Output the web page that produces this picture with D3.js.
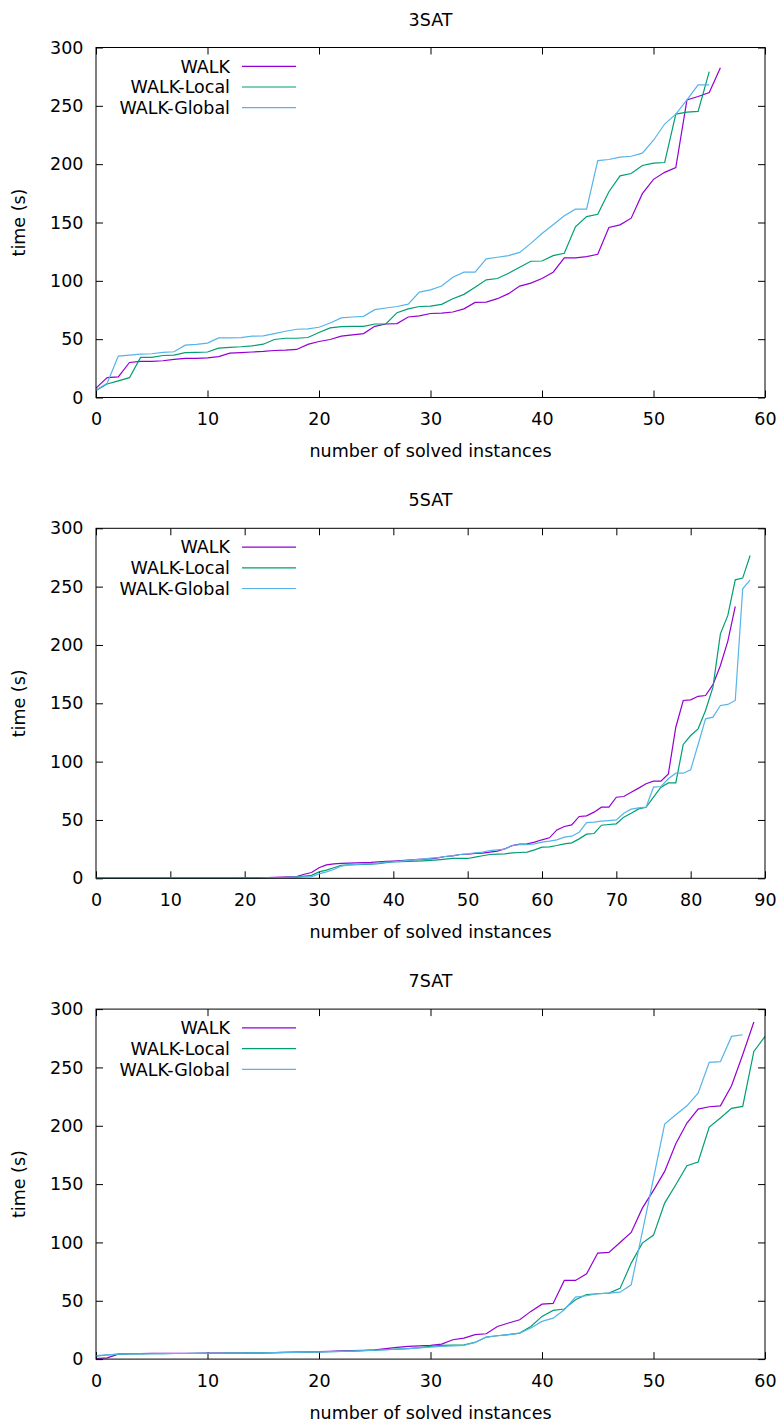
<!DOCTYPE html>
<html>
<head>
<meta charset="utf-8">
<script src="https://cdn.jsdelivr.net/npm/d3@7"></script>
<style>
    body { margin: 0; background: #fff; }
    text { font-family: "DejaVu Sans", sans-serif; fill: #000; }
</style>
</head>
<body>
<div id="chart"></div>
<script>
// series names and colours (gnuplot default palette)
const seriesNames = ["WALK", "WALK-Local", "WALK-Global"];
const seriesColors = ["#9400d3", "#009e73", "#56b4e9"];

// 3SAT: time (s) of the n-th solved instance, n = 0, 1, 2, ...
const sat3Walk = [8, 17, 17.6, 30, 31, 31, 31.5, 32.7, 33.5, 33.5, 34, 35, 38, 38.4, 39, 39.5, 40.3, 40.6, 41.2, 45.5,
    48, 49.7, 52.6, 53.7, 54.8, 61, 63, 63.4, 69, 70, 72, 72.4, 73.3, 76, 81.5, 81.8, 84.7, 89, 95.5, 98,
    102, 107.4, 119.6, 119.6, 120.7, 122.7, 145.7, 148, 153.7, 174.7, 187, 193, 197, 255, 258, 261.4, 282.7];
const sat3Local = [6, 11.6, 14.2, 17, 34.4, 34.4, 36, 36.4, 38.4, 38.6, 39, 42.3, 43, 43.5, 44.3, 45.7, 49.7, 50.8, 50.8, 51.4,
    55.7, 59.7, 60.8, 61, 61, 63, 63, 72.7, 75.9, 78, 78.4, 79.8, 84.7, 88.4, 94.6, 100.9, 102, 106.5, 111.6, 116.8,
    117, 121.6, 123.6, 146.3, 155.1, 157.1, 176.4, 190, 192, 198.9, 200.9, 201.4, 242.9, 244.6, 245.2, 279.3];
const sat3Global = [6.5, 12.2, 35.5, 36.4, 37.2, 37.5, 38.6, 39.2, 44.9, 45.5, 46.6, 51.1, 51.1, 51.4, 52.6, 52.8, 54.8, 56.8, 58.5, 58.8,
    60.2, 63.9, 68.2, 69, 69.6, 75.3, 76.7, 78, 80, 90.3, 92.3, 95.5, 103.1, 107.4, 107.4, 118.8, 120.2, 121.6, 124.4, 132.1,
    140.6, 148, 155.7, 161.4, 161.4, 203.1, 204, 206, 206.8, 209.4, 220.5, 234.4, 242.9, 255.1, 267.9, 267.9];

// 5SAT
const sat5Walk = [0.1, 0.1, 0.1, 0.1, 0.1, 0.1, 0.1, 0.1, 0.1, 0.1, 0.1, 0.1, 0.1, 0.1, 0.1, 0.1, 0.1, 0.1, 0.1, 0.2,
    0.3, 0.5, 0.6, 0.7, 0.8, 1, 1.2, 1.5, 3.5, 5, 9, 11.5, 12.4, 12.8, 13, 13.2, 13.4, 13.6, 14, 14.5,
    14.8, 15.2, 15.6, 16, 16.4, 16.7, 17.5, 18.7, 19.3, 20.4, 20.7, 21.3, 21.5, 22.4, 23.3, 25.3, 28, 29.3, 29.5, 31,
    33, 34.7, 41.5, 44.4, 45.8, 53, 53.5, 56.7, 61, 61, 69.5, 70.1, 73.8, 77.3, 81, 83.3, 83.3, 89.5, 129.5, 152.4,
    153, 156, 156.7, 166, 182.4, 203.3, 233];
const sat5Local = [0.1, 0.1, 0.1, 0.1, 0.1, 0.1, 0.1, 0.1, 0.1, 0.1, 0.1, 0.1, 0.1, 0.1, 0.1, 0.1, 0.1, 0.1, 0.1, 0.1,
    0.2, 0.3, 0.4, 0.5, 0.6, 0.7, 0.8, 1, 1.8, 2.5, 5.5, 7, 9, 11, 11.5, 11.8, 12, 12.2, 12.5, 13.5,
    14, 14.2, 14.5, 14.8, 15, 15.3, 15.8, 16.4, 17, 17, 17, 18.1, 19.3, 20.4, 20.7, 21, 21.8, 22.1, 22.4, 24.4,
    26.7, 27, 28.1, 29.5, 30.4, 33.8, 37.8, 38.4, 45.5, 46.1, 46.7, 52.4, 55.8, 59.5, 60.9, 69.5, 78.1, 81.8, 81.8, 114.7,
    122.4, 128.1, 143.8, 163.8, 209.5, 225.3, 255.8, 257.3, 276.7];
const sat5Global = [0.1, 0.1, 0.1, 0.1, 0.1, 0.1, 0.1, 0.1, 0.1, 0.1, 0.1, 0.1, 0.1, 0.1, 0.1, 0.1, 0.1, 0.1, 0.1, 0.1,
    0.2, 0.3, 0.4, 0.5, 0.6, 0.7, 0.8, 1, 1.2, 1.5, 3.8, 5.5, 7.5, 10.5, 11.5, 12, 12.3, 12.6, 13, 13.8,
    14.2, 14.8, 15.4, 16, 16.4, 17.3, 17.8, 18.7, 19.5, 20.4, 21, 21.8, 22.4, 23.8, 24.4, 25, 28.1, 28.9, 28.9, 29.5,
    31, 31.8, 33, 35.3, 36.1, 39.5, 47.8, 48.1, 49, 49.5, 50.1, 55.8, 59.3, 60.4, 61, 78.1, 78.7, 85.3, 90.1, 90.1,
    93, 114.7, 136.7, 138.1, 148.1, 149, 152.4, 248.1, 255.8];

// 7SAT
const sat7Walk = [0.5, 1, 4.3, 4.6, 4.8, 4.9, 5, 5, 5, 5, 5.1, 5.1, 5.2, 5.2, 5.3, 5.4, 5.5, 5.7, 5.9, 6.1,
    6.4, 6.7, 7, 7.2, 7.5, 8, 8.9, 10, 10.9, 11.4, 11.7, 12.9, 16.6, 18, 20.9, 21.7, 28, 30.9, 33.7, 40.9,
    47.1, 47.7, 67.4, 67.4, 73.1, 90.9, 91.4, 100, 108.6, 129.4, 144.6, 160.9, 184.6, 202.3, 214.3, 216.3, 217.1, 234.3, 260.9, 288.9];
const sat7Local = [2.5, 3.5, 4.2, 4.4, 4.5, 4.6, 4.7, 4.8, 4.8, 4.9, 5, 5, 5.1, 5.2, 5.3, 5.4, 5.5, 5.7, 5.8, 6,
    6.2, 6.4, 6.7, 6.9, 7.2, 7.6, 8, 8.5, 9, 9.8, 10.9, 11.7, 12, 12.3, 14.3, 18.9, 20, 20.9, 22.3, 28,
    36.6, 41.7, 42.9, 50.9, 55.4, 56, 56.6, 60.6, 82.3, 99.4, 106.3, 133.7, 149.4, 165.7, 168.9, 198.9, 206.6, 214.9, 216.6, 263.7,
    276.6];
const sat7Global = [3, 3.6, 4.3, 4.4, 4.5, 4.6, 4.7, 4.8, 4.8, 4.9, 5, 5, 5.1, 5.2, 5.3, 5.4, 5.5, 5.6, 5.8, 6,
    6.2, 6.4, 6.6, 6.9, 7.2, 7.6, 8, 8.5, 9, 9.6, 10.3, 10.9, 11.4, 11.7, 14.3, 18.9, 20, 20.9, 22.3, 26.6,
    32.3, 35.1, 42.3, 53.1, 54.3, 56, 56.6, 57.4, 63.7, 109, 155, 201.4, 209.4, 217.1, 228, 254.3, 254.9, 276.6, 278];

const panelTitles = ["3SAT", "5SAT", "7SAT"];
const panelXMax = [60, 90, 60];
const yTickValues = [0, 50, 100, 150, 200, 250, 300];
const xLabel = "number of solved instances";
const yLabel = "time (s)";

const panels = [
    [sat3Walk, sat3Local, sat3Global],
    [sat5Walk, sat5Local, sat5Global],
    [sat7Walk, sat7Local, sat7Global]
];

const width = 781, height = 1423;
const plotLeft = 96, plotRight = 765, plotH = 350, firstTop = 47.5, panelStep = 480.8;
const fontSize = 17.5;

const svg = d3.select("#chart")
    .append("svg")
    .attr("width", width)
    .attr("height", height);

panels.forEach((seriesList, p) => {
    const top = firstTop + p * panelStep;
    const g = svg.append("g").attr("transform", `translate(${plotLeft},${top})`);
    const w = plotRight - plotLeft;

    const x = d3.scaleLinear().domain([0, panelXMax[p]]).range([0, w]);
    const y = d3.scaleLinear().domain([0, 300]).range([plotH, 0]);
    const xTicks = d3.range(0, panelXMax[p] + 1, 10);

    // bottom axis with labels, ticks pointing inward
    const xAxis = g.append("g")
        .attr("transform", `translate(0,${plotH})`)
        .call(d3.axisBottom(x).tickValues(xTicks).tickSize(-7).tickPadding(15.5).tickFormat(d3.format("d")));
    // mirrored ticks on top
    const xAxisTop = g.append("g")
        .call(d3.axisTop(x).tickValues(xTicks).tickSize(-7).tickFormat(""));

    const yAxis = g.append("g")
        .call(d3.axisLeft(y).tickValues(yTickValues).tickSize(-7).tickPadding(12.5).tickFormat(d3.format("d")));
    const yAxisRight = g.append("g")
        .attr("transform", `translate(${w},0)`)
        .call(d3.axisRight(y).tickValues(yTickValues).tickSize(-7).tickFormat(""));

    [xAxis, xAxisTop, yAxis, yAxisRight].forEach(a => {
        a.select(".domain").remove();
        a.selectAll("line").attr("stroke", "#000").attr("stroke-width", 1);
        a.selectAll("text")
            .style("font-family", "'DejaVu Sans', sans-serif")
            .style("font-size", fontSize + "px")
            .attr("fill", "#000");
    });

    const line = d3.line()
        .x((d, i) => x(i))
        .y(d => y(d));

    seriesList.forEach((values, s) => {
        g.append("path")
            .datum(values)
            .attr("fill", "none")
            .attr("stroke", seriesColors[s])
            .attr("stroke-width", 1.2)
            .attr("stroke-linejoin", "miter")
            .attr("d", line);
    });

    // border
    g.append("rect")
        .attr("x", 0)
        .attr("y", 0)
        .attr("width", w)
        .attr("height", plotH)
        .attr("fill", "none")
        .attr("stroke", "#000")
        .attr("stroke-width", 1);

    // legend
    const legend = g.append("g");
    seriesNames.forEach((name, s) => {
        const ly = 18.8 + s * 20.7;
        legend.append("text")
            .attr("x", 134)
            .attr("y", ly)
            .attr("dy", "0.36em")
            .attr("text-anchor", "end")
            .style("font-size", fontSize + "px")
            .text(name);
        legend.append("line")
            .attr("x1", 146)
            .attr("x2", 200)
            .attr("y1", ly)
            .attr("y2", ly)
            .attr("stroke", seriesColors[s])
            .attr("stroke-width", 1.2);
    });

    // title and axis labels
    g.append("text")
        .attr("x", w / 2)
        .attr("y", -22)
        .attr("text-anchor", "middle")
        .style("font-size", fontSize + "px")
        .text(panelTitles[p]);

    g.append("text")
        .attr("x", w / 2)
        .attr("y", plotH + 59.5)
        .attr("text-anchor", "middle")
        .style("font-size", fontSize + "px")
        .text(xLabel);

    g.append("text")
        .attr("transform", `translate(${19 - plotLeft + 6},${plotH / 2}) rotate(-90)`)
        .attr("text-anchor", "middle")
        .style("font-size", fontSize + "px")
        .text(yLabel);
});
</script>
</body>
</html>
